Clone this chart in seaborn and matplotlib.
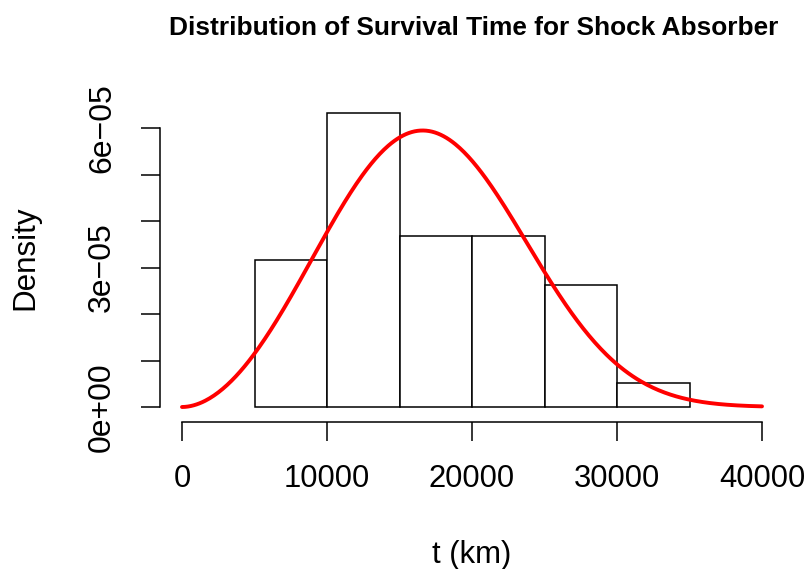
import numpy as np
import pandas as pd
import matplotlib
matplotlib.use("Agg")
import matplotlib.pyplot as plt
import seaborn as sns

# Histogram of shock absorber survival distances (km)
bin_edges = [5000, 10000, 15000, 20000, 25000, 30000, 35000]
bin_counts = [6, 12, 7, 7, 5, 1]

# Fitted Weibull density overlaid on the histogram
weibull_shape = 2.9
weibull_scale = 19200.0

x_ticks = [0, 10000, 20000, 30000, 40000]
y_ticks = [0, 1e-5, 2e-5, 3e-5, 4e-5, 5e-5, 6e-5]
y_tick_labels = ["0e+00", "", "", "3e\u221205", "", "", "6e\u221205"]

sns.set_style("ticks")
plt.rcParams["font.family"] = ["Liberation Sans", "DejaVu Sans"]
plt.rcParams["text.color"] = "black"

W, H = 809, 569
fig = plt.figure(figsize=(W / 100, H / 100), dpi=100)

# axes box in pixel terms
left_px, right_px, top_px, bot_px = 150, 790, 95, 425
ax = fig.add_axes([left_px / W, 1 - bot_px / H, (right_px - left_px) / W, (bot_px - top_px) / H])

# pixel -> data mapping: x 0 at 182, 40000 at 762; y 0 at 407, 6e-5 at 128
xpp = 40000 / (762 - 182)
ypp = 6e-5 / (407 - 128)
ax.set_xlim((left_px - 182) * xpp, (right_px - 182) * xpp)
ax.set_ylim((407 - bot_px) * ypp, (407 - top_px) * ypp)

mids = [(a + b) / 2 for a, b in zip(bin_edges[:-1], bin_edges[1:])]
hist_df = pd.DataFrame({"t": mids, "n": bin_counts})
sns.histplot(data=hist_df, x="t", weights="n", bins=bin_edges, stat="density",
             color="white", edgecolor="black", linewidth=1.1, alpha=1, ax=ax)

t = np.linspace(0, 40000, 400)
k, lam = weibull_shape, weibull_scale
pdf = (k / lam) * (t / lam) ** (k - 1) * np.exp(-(t / lam) ** k)
curve_df = pd.DataFrame({"t": t, "density": pdf})
sns.lineplot(data=curve_df, x="t", y="density", color="red", linewidth=2.8, ax=ax)

# detached axis lines
for s in ["top", "right"]:
    ax.spines[s].set_visible(False)
ax.spines["left"].set_position(("data", (160 - 182) * xpp))
ax.spines["bottom"].set_position(("data", (407 - 422) * ypp))
ax.spines["left"].set_bounds(0, 6e-5)
ax.spines["bottom"].set_bounds(0, 40000)
for s in ["left", "bottom"]:
    ax.spines[s].set_linewidth(1.1)
    ax.spines[s].set_color("black")

ax.set_xticks(x_ticks)
ax.set_xticklabels([str(v) for v in x_ticks])
ax.set_yticks(y_ticks)
ax.set_yticklabels(y_tick_labels, rotation=90, va="center")
ax.tick_params(axis="both", length=14, width=1.1, colors="black")
ax.tick_params(axis="x", pad=16, labelsize=22.3)
ax.tick_params(axis="y", pad=17, labelsize=23)

ax.set_xlabel("")
ax.set_ylabel("")
fig.text(472 / W, 1 - 555 / H, "t (km)", ha="center", va="center", fontsize=22.4)
fig.text(25 / W, 1 - 258 / H, "Density", ha="center", va="center", rotation=90, fontsize=22.6)
fig.text(474 / W, 1 - 28 / H, "Distribution of Survival Time for Shock Absorber",
         ha="center", va="center", fontsize=18.9, fontweight="bold")

fig.savefig("out.png", dpi=100)
